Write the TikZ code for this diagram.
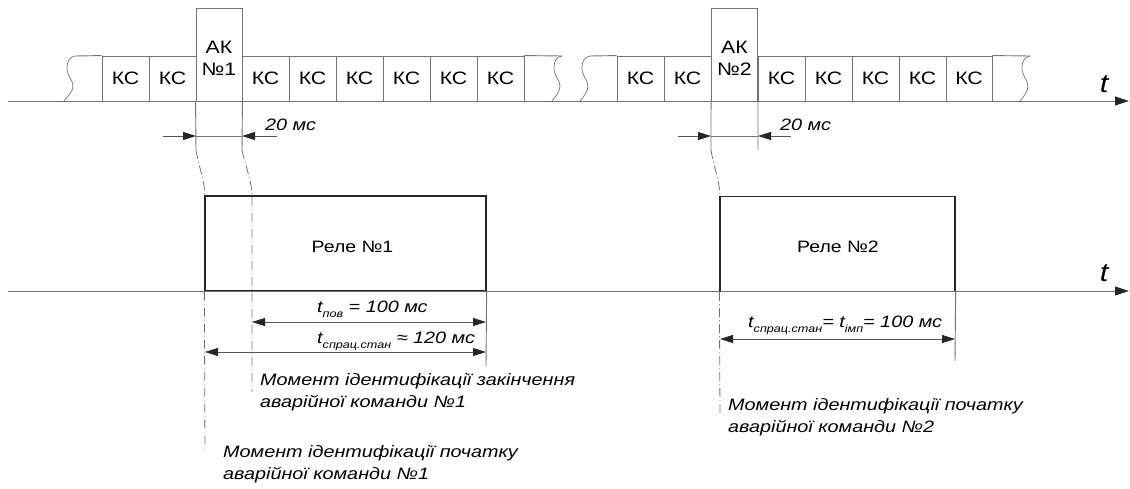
\documentclass[tikz,border=0pt]{standalone}
\usepackage{fontspec}
\setmainfont[FakeStretch=1.18]{Liberation Sans}
\newfontfamily\widefont[FakeStretch=1.2]{Liberation Sans}
\usetikzlibrary{arrows.meta,calc}
\newcommand{\tsub}[1]{\textit{t}\raisebox{-0.6ex}{\fontsize{10.5}{10.5}\selectfont\itshape #1}}
\begin{document}
\begin{tikzpicture}[x=1pt,y=-1pt,
  gl/.style={draw=black!55, line width=0.9pt},
  cell/.style={gl, rectangle, minimum height=45pt, inner sep=0pt, font=\fontsize{18}{20}\selectfont},
  akbox/.style={gl, rectangle, minimum width=46pt, minimum height=93pt, inner sep=0pt},
  relay/.style={draw=black!85, line width=1.3pt, rectangle, minimum height=95pt, inner sep=0pt},
  ax/.style={draw=black!55, line width=0.9pt, -{Triangle[length=14pt,width=9pt,color=black!85,fill=black!85]}},
  dim/.style={draw=black!65, line width=0.8pt, {Triangle[length=13pt,width=8pt,color=black!85,fill=black!85]}-{Triangle[length=13pt,width=8pt,color=black!85,fill=black!85]}},
  arr/.style={draw=black!65, line width=0.8pt, -{Triangle[length=13pt,width=8pt,color=black!85,fill=black!85]}},
  dd/.style={draw=black!55, line width=0.8pt, dash pattern=on 9pt off 3pt on 1pt off 3pt},
  lbl/.style={font=\fontsize{18}{20}\selectfont, inner sep=0pt},
  itl/.style={font=\widefont\fontsize{16.5}{20}\selectfont\itshape, inner sep=0pt},
  ilbl/.style={font=\widefont\fontsize{16.5}{22}\selectfont\itshape, inner sep=0pt, align=left},
  tl/.style={font=\fontsize{26}{26}\selectfont\itshape, inner sep=0pt}]
\useasboundingbox (0,0) rectangle (1130,488);

% ---------- top axis ----------
\coordinate (a1s) at (8,101);
\coordinate (a1e) at (1129,101);
% cells segment 1
\node[cell, minimum width=47pt] (c1) at (125.5,78.5) {КС};
\node[cell, minimum width=47pt] (c2) at (172.5,78.5) {КС};
\node[akbox] (ak1) at (219,54.5) {};
\node[lbl, align=center, font=\fontsize{18}{22}\selectfont] (ak1t) at (219,58) {АК\\№1};
\node[cell, minimum width=47pt] (c3) at (265.5,78.5) {КС};
\node[cell, minimum width=47pt] (c4) at (312.5,78.5) {КС};
\node[cell, minimum width=47pt] (c5) at (359.5,78.5) {КС};
\node[cell, minimum width=47pt] (c6) at (406.5,78.5) {КС};
\node[cell, minimum width=47pt] (c7) at (453.5,78.5) {КС};
\node[cell, minimum width=47pt] (c8) at (500.5,78.5) {КС};
% cells segment 2
\node[cell, minimum width=47pt] (d1) at (640.5,78.5) {КС};
\node[cell, minimum width=47pt] (d2) at (687.5,78.5) {КС};
\node[akbox] (ak2) at (734.5,54.5) {};
\node[lbl, align=center, font=\fontsize{18}{22}\selectfont] (ak2t) at (734.5,58) {АК\\№2};
\node[cell, minimum width=47pt] (d3) at (781.5,78.5) {КС};
\node[cell, minimum width=47pt] (d4) at (828.5,78.5) {КС};
\node[cell, minimum width=47pt] (d5) at (875.5,78.5) {КС};
\node[cell, minimum width=47pt] (d6) at (922.5,78.5) {КС};
\node[cell, minimum width=46pt] (d7) at (969,78.5) {КС};

% open ends with wavy breaks
\coordinate (w1t) at (75,56);   \coordinate (w1b) at (64,101);
\coordinate (w2t) at (562,56);  \coordinate (w2b) at (552,101);
\coordinate (w3t) at (590,56);  \coordinate (w3b) at (580,101);
\coordinate (w4t) at (1030,56); \coordinate (w4b) at (1020,101);
\draw[gl] (c1.north west) -- (w1t);
\draw[gl] (c8.north east) -- (w2t);
\draw[gl] (d1.north west) -- (w3t);
\draw[gl] (d7.north east) -- (w4t);
\foreach \w in {1,2,3,4}{
  \draw[gl, line width=0.7pt] (w\w t) .. controls ++(-6,1) and ++(0,-6) .. ($(w\w t)+(-8,12)$)
     .. controls ++(0,8) and ++(0,-6) .. ($(w\w t)+(-2,30)$)
     .. controls ++(0,6) and ++(3,-4) .. (w\w b);
}
\draw[ax] (a1s) -- (a1e);
\node[tl] (t1) at (1104,84) {t};

% 20 ms marks
\coordinate (k1a) at (196,150); \coordinate (k1b) at (242,150);
\coordinate (k2a) at (711,150); \coordinate (k2b) at (758,150);
\draw[gl] (ak1.south west) -- (k1a);
\draw[gl] (ak1.south east) -- (k1b);
\draw[gl] (ak2.south west) -- (k2a);
\draw[gl] (ak2.south east) -- (k2b);
\coordinate (m1l) at (163,136); \coordinate (m1r) at (277,136);
\coordinate (m2l) at (678,136); \coordinate (m2r) at (791,136);
\coordinate (m1a) at (196,136); \coordinate (m1b) at (242,136);
\coordinate (m2a) at (711,136); \coordinate (m2b) at (758,136);
\draw[arr] (m1l) -- (m1a);
\draw[arr] (m1r) -- (m1b);
\draw[gl, line width=0.8pt] (m1a) -- (m1b);
\draw[arr] (m2l) -- (m2a);
\draw[arr] (m2r) -- (m2b);
\draw[gl, line width=0.8pt] (m2a) -- (m2b);
\node[itl, anchor=base west] (ms1) at (265,130) {20 мс};
\node[itl, anchor=base west] (ms2) at (780,130) {20 мс};

% ---------- bottom axis ----------
\node[relay, minimum width=281pt] (r1) at (345.5,243.5) {};
\node[lbl, font=\fontsize{16.5}{20}\selectfont] (r1t) at (352.5,247) {Реле №1};
\node[relay, minimum width=235pt] (r2) at (837.5,244) {};
\node[lbl, font=\fontsize{16.5}{20}\selectfont] (r2t) at (838,247) {Реле №2};
\coordinate (a2s) at (8,291);
\coordinate (a2e) at (1129,291);
\draw[ax] (a2s) -- (a2e);
\node[tl] (t2) at (1104,273) {t};

% dash-dot identification lines
\coordinate (q1) at (205,196); \coordinate (q1e) at (205,452);
\coordinate (q2) at (252,196); \coordinate (q2e) at (252,392);
\coordinate (q3) at (720,197); \coordinate (q3e) at (720,416);
\draw[dd] (k1a) .. controls (199,168) and (205,182) .. (q1);
\draw[dd] (k1b) .. controls (246,168) and (252,182) .. (q2) -- (q2e);
\draw[dd] (k2a) .. controls (714,168) and (720,182) .. (q3);
\draw[dd] (r1.south west) -- (q1e);
\draw[dd] (r2.south west) -- (q3e);

% extension lines
\coordinate (x1) at (486,366);
\coordinate (x2) at (955,361);
\draw[gl] (r1.south east) -- (x1);
\draw[gl] (r2.south east) -- (x2);

% dimensions
\coordinate (d1l) at (252,322); \coordinate (d1r) at (486,322);
\coordinate (d2l) at (205,352); \coordinate (d2r) at (486,352);
\coordinate (d3l) at (720,339); \coordinate (d3r) at (955,339);
\draw[dim] (d1l) -- (d1r);
\draw[dim] (d2l) -- (d2r);
\draw[dim] (d3l) -- (d3r);
\node[itl, anchor=base west] (L1) at (317,312) {\tsub{пов} = 100 мс};
\node[itl, anchor=base west] (L2) at (317,343) {\tsub{спрац.стан} ≈ 120 мс};
\node[itl, anchor=base west] (L3) at (748,327) {\tsub{спрац.стан}= \tsub{імп}= 100 мс};

% captions
\node[ilbl, anchor=north west] (n1) at (260,373) {Момент ідентифікації закінчення\\аварійної команди №1};
\node[ilbl, anchor=north west] (n2) at (223,445) {Момент ідентифікації початку\\аварійної команди №1};
\node[ilbl, anchor=north west] (n3) at (728,398) {Момент ідентифікації початку\\аварійної команди №2};
\end{tikzpicture}
\end{document}
